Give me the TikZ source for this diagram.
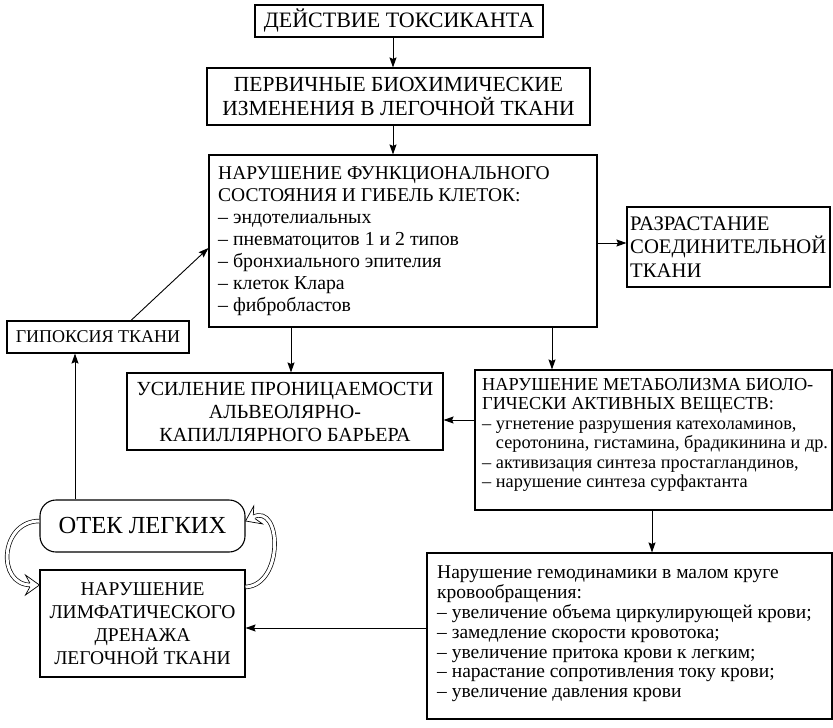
\documentclass[tikz,border=0pt]{standalone}
\usepackage{fontspec}
\setmainfont{Liberation Serif}
\usetikzlibrary{arrows.meta}
\newcommand\fz[2]{\fontsize{#1}{#2}\selectfont}
\hyphenpenalty=10000
\begin{document}
\begin{tikzpicture}[x=1pt,y=-1pt,
  box/.style={draw, line width=1.1pt, inner sep=0pt},
  txt/.style={inner sep=0pt, align=left, anchor=west},
  arr/.style={line width=0.9pt, -{Stealth[length=10pt,width=7pt,inset=1.5pt]}},
  dbl/.style={draw, line width=0.7pt, double, double distance=3pt},
  hollowhead/.style={draw, fill=white, line width=0.7pt, line join=miter}]
\useasboundingbox (0,0) rectangle (833,728);

% centred boxes
\node[box, minimum width=288pt, minimum height=32pt, align=center, font=\fz{22}{24}] (top) at (399,21) {ДЕЙСТВИЕ ТОКСИКАНТА};

\node[box, minimum width=383pt, minimum height=57pt, align=center, font=\fz{21.5}{24}] (perv) at (398.5,96.5)
  {ПЕРВИЧНЫЕ БИОХИМИЧЕСКИЕ\\ИЗМЕНЕНИЯ В ЛЕГОЧНОЙ ТКАНИ};

\node[box, minimum width=182pt, minimum height=32pt, align=center, font=\fz{18}{20}] (gip) at (98,337)
  {ГИПОКСИЯ ТКАНИ};

\node[box, minimum width=316pt, minimum height=77pt, align=center, font=\fz{20}{23}] (usil) at (285,411.5)
  {УСИЛЕНИЕ ПРОНИЦАЕМОСТИ\\АЛЬВЕОЛЯРНО-\\КАПИЛЛЯРНОГО БАРЬЕРА};

\node[box, rounded corners=16pt, minimum width=205pt, minimum height=52pt, align=center, font=\fz{24.5}{28}] (otek) at (142.5,526)
  {ОТЕК ЛЕГКИХ};

\node[box, minimum width=205pt, minimum height=107pt, align=center, font=\fz{19.5}{23}] (limf) at (142.5,623.5)
  {НАРУШЕНИЕ\\ЛИМФАТИЧЕСКОГО\\ДРЕНАЖА\\ЛЕГОЧНОЙ ТКАНИ};

% left-aligned boxes: frame + text
\node[box, minimum width=388pt, minimum height=172pt] (func) at (403,241) {};
\node[txt, font=\fz{19.5}{22}] (funct) at (218,241)
  {НАРУШЕНИЕ ФУНКЦИОНАЛЬНОГО\\СОСТОЯНИЯ И ГИБЕЛЬ КЛЕТОК:\\
   {\fz{19.8}{22}– эндотелиальных}\\
   {\fz{19.8}{22}– пневматоцитов 1 и 2 типов}\\
   {\fz{19.8}{22}– бронхиального эпителия}\\
   {\fz{19.8}{22}– клеток Клара}\\
   {\fz{19.8}{22}– фибробластов}};

\node[box, minimum width=203pt, minimum height=80pt] (razr) at (728.5,247) {};
\node[txt, font=\fz{20.7}{23.5}] (razrt) at (630,247)
  {РАЗРАСТАНИЕ\\СОЕДИНИТЕЛЬНОЙ\\ТКАНИ};

\node[box, minimum width=357pt, minimum height=140pt] (metab) at (653.5,440) {};
\node[txt, font=\fz{18.3}{19.5}] (metabt) at (482,435)
  {НАРУШЕНИЕ МЕТАБОЛИЗМА БИОЛО-\\ГИЧЕСКИ АКТИВНЫХ ВЕЩЕСТВ:\\
   – угнетение разрушения катехоламинов,\\
   \phantom{– }серотонина, гистамина, брадикинина и др.\\
   – активизация синтеза простагландинов,\\
   – нарушение синтеза сурфактанта};

\node[box, minimum width=405pt, minimum height=166pt] (hemo) at (629.5,636) {};
\node[txt, font=\fz{19.5}{19.8}] (hemot) at (437,634)
  {Нарушение гемодинамики в малом круге\\кровообращения:\\
   – увеличение объема циркулирующей крови;\\
   – замедление скорости кровотока;\\
   – увеличение притока крови к легким;\\
   – нарастание сопротивления току крови;\\
   – увеличение давления крови};

\coordinate (c1) at (393,0);
\coordinate (c2) at (131,0);
\coordinate (c3) at (0,248);
\coordinate (c4) at (0,243);
\coordinate (c5) at (291,0);
\coordinate (c6) at (552,0);
\coordinate (c7) at (0,420);
\coordinate (c8) at (652,0);
\coordinate (c9) at (0,628);
\coordinate (c10) at (75,0);
\coordinate (c11) at (0,521);
\coordinate (c12) at (0,585);
\coordinate (c13) at (0,587);
\coordinate (c14) at (0,521);
\coordinate (hlb) at (31,585);
\coordinate (hrb) at (253,517);

\draw[arr] (c1 |- top.south) -- (c1 |- perv.north);
\draw[arr] (c1 |- perv.south) -- (c1 |- func.north);
\draw[arr] (c2 |- gip.north) -- (func.west |- c3);
\draw[arr] (func.east |- c4) -- (razr.west |- c4);
\draw[arr] (c5 |- func.south) -- (c5 |- usil.north);
\draw[arr] (c6 |- func.south) -- (c6 |- metab.north);
\draw[arr] (metab.west |- c7) -- (usil.east |- c7);
\draw[arr] (c8 |- metab.south) -- (c8 |- hemo.north);
\draw[arr] (hemo.west |- c9) -- (limf.east |- c9);
\draw[arr] (c10 |- otek.north) -- (c10 |- gip.south);

% double (hollow) feedback arrows
\draw[dbl] (otek.west |- c11) .. controls (0,521) and (-4,585) .. (hlb);
\draw[dbl] (limf.east |- c13) .. controls (284,585) and (282,503) .. (hrb);
\begin{scope}[shift={(limf.west |- c12)}]
  \draw[hollowhead] (-9.5,-1.85) -- (-14,-10) -- (0,0) -- (-14,10) -- (-9.5,1.85);
\end{scope}
\begin{scope}[shift={(otek.east |- c14)}, rotate=205.8]
  \draw[hollowhead] (-9.5,-1.85) -- (-14,-10) -- (0,0) -- (-14,10) -- (-9.5,1.85);
\end{scope}
\end{tikzpicture}
\end{document}
